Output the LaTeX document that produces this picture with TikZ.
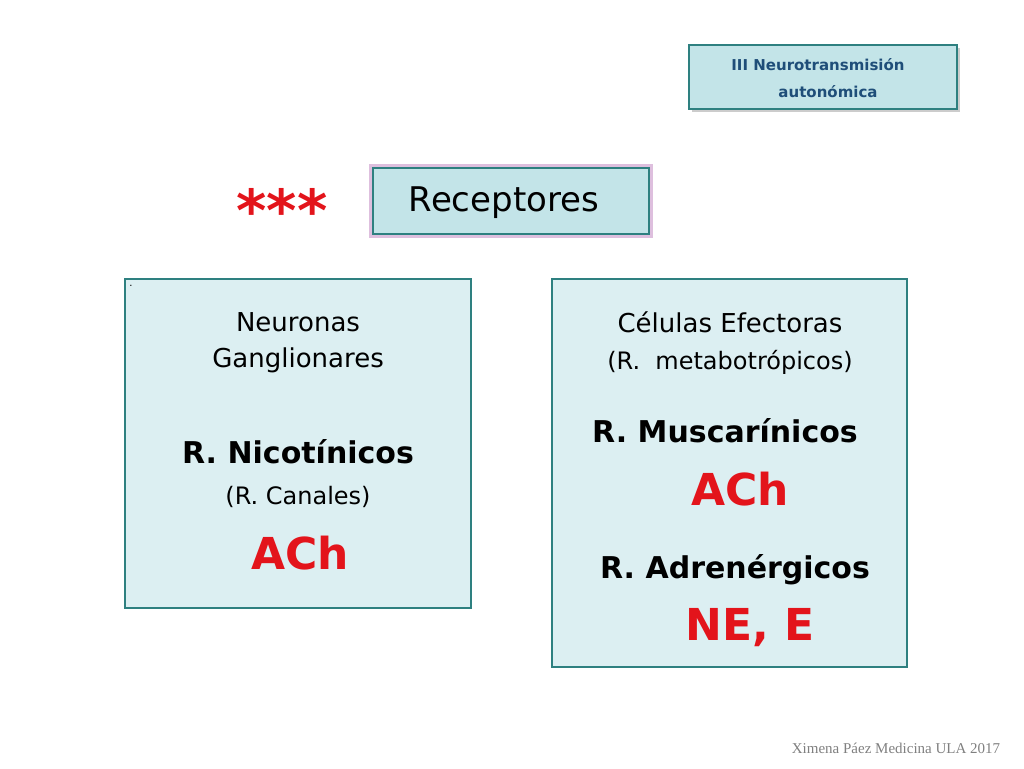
\documentclass[tikz,border=0pt]{standalone}
\usepackage{fontspec}
\setmainfont{DejaVu Sans}
\newfontfamily\footfont{Liberation Serif}
\usetikzlibrary{shadows}
\definecolor{boxfill}{HTML}{DCEFF2}
\definecolor{tealb}{HTML}{2E8080}
\definecolor{titlefill}{HTML}{C3E4E8}
\definecolor{navy}{HTML}{1F4E79}
\definecolor{redt}{HTML}{E3141B}
\tikzset{
  panel/.style={draw=tealb,line width=2pt,fill=boxfill},
  txt/.style={inner sep=0pt,anchor=center},
}
\begin{document}
\begin{tikzpicture}[x=1pt,y=-1pt]
\useasboundingbox[fill=white] (0,0) rectangle (1024,768);
% top right box
\node[draw=tealb,line width=2pt,fill=titlefill,minimum width=268pt,minimum height=64pt,drop shadow={shadow xshift=3pt,shadow yshift=-3pt,opacity=0.4}] (tb) at (823,77) {};
\node[txt,text=navy,font=\fontsize{15}{18}\selectfont\bfseries] (t1) at (818,65) {III Neurotransmisión};
\node[txt,text=navy,font=\fontsize{15}{18}\selectfont\bfseries] (t2) at (828,92) {autonómica};
% stars
\node[txt,text=redt,font=\fontsize{58}{60}\selectfont\bfseries] (st) at (282,210) {***};
% Receptores box
\node[draw=tealb,line width=2pt,fill=titlefill,minimum width=276pt,minimum height=66pt,
  preaction={draw=violet!50,line width=8pt,opacity=0.5}] (rb) at (511,201) {};
\node[txt,font=\fontsize{34}{38}\selectfont] (rt) at (504,203) {Receptores};
% left panel
\node[panel,minimum width=346pt,minimum height=329pt] (lp) at (298,443) {};
\node[txt,font=\fontsize{10}{10}\selectfont] (dot) at (131,286) {.};
\node[txt,font=\fontsize{26}{30}\selectfont] (l1) at (298,322) {Neuronas};
\node[txt,font=\fontsize{26}{30}\selectfont] (l2) at (298,360) {Ganglionares};
\node[txt,font=\fontsize{30}{34}\selectfont\bfseries] (l3) at (298,452) {R. Nicotínicos};
\node[txt,font=\fontsize{24}{28}\selectfont] (l4) at (298,497) {(R. Canales)};
\node[txt,text=redt,font=\fontsize{44}{48}\selectfont\bfseries] (l5) at (300,553) {ACh};
% right panel
\node[panel,minimum width=355pt,minimum height=388pt] (rp) at (729,473) {};
\node[txt,font=\fontsize{26}{30}\selectfont] (r1) at (730,322) {Células Efectoras};
\node[txt,font=\fontsize{24}{28}\selectfont] (r2) at (730,362) {(R.\ \ metabotrópicos)};
\node[txt,font=\fontsize{30}{34}\selectfont\bfseries] (r3) at (725,431) {R. Muscarínicos};
\node[txt,text=redt,font=\fontsize{44}{48}\selectfont\bfseries] (r4) at (740,489) {ACh};
\node[txt,font=\fontsize{30}{34}\selectfont\bfseries] (r5) at (735,570) {R. Adrenérgicos};
\node[txt,text=redt,font=\fontsize{44}{48}\selectfont\bfseries] (r6) at (750,628) {NE, E};
% footer
\node[txt,text=gray,font=\footfont\fontsize{15}{18}\selectfont] (ft) at (896,748) {Ximena Páez Medicina ULA 2017};
\end{tikzpicture}
\end{document}
